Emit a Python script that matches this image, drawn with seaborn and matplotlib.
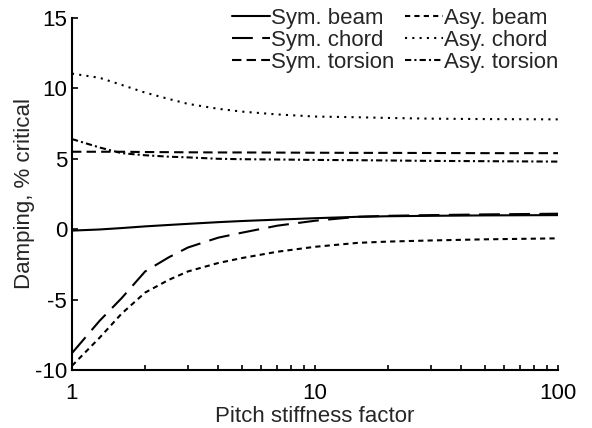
import numpy as np
import pandas as pd
import matplotlib
matplotlib.use("Agg")
import matplotlib.pyplot as plt
import seaborn as sns
from matplotlib.ticker import LogLocator, NullFormatter, FixedLocator

# ---- data ----
stiffness = [1, 1.3, 1.6, 2, 2.5, 3, 4, 5, 7, 10, 15, 20, 30, 50, 100]
sym_beam = [-0.1, -0.02, 0.08, 0.2, 0.3, 0.38, 0.5, 0.58, 0.68, 0.78, 0.88, 0.92, 0.95, 0.98, 1.0]
sym_chord = [-8.8, -6.5, -4.9, -3.0, -2.0, -1.3, -0.6, -0.25, 0.25, 0.6, 0.88, 0.95, 1.0, 1.05, 1.1]
sym_torsion = [5.5, 5.5, 5.5, 5.48, 5.47, 5.46, 5.45, 5.45, 5.44, 5.43, 5.42, 5.42, 5.41, 5.4, 5.4]
asy_beam = [-9.7, -7.7, -6.0, -4.5, -3.6, -3.0, -2.4, -2.05, -1.6, -1.25, -0.97, -0.88, -0.8, -0.72, -0.65]
asy_chord = [11.05, 10.75, 10.25, 9.7, 9.25, 8.9, 8.55, 8.35, 8.15, 8.0, 7.95, 7.9, 7.85, 7.82, 7.8]
asy_torsion = [6.4, 5.8, 5.4, 5.25, 5.15, 5.1, 5.0, 4.97, 4.95, 4.92, 4.9, 4.88, 4.85, 4.83, 4.8]

series_names = ["Sym. beam", "Sym. chord", "Sym. torsion",
                "Asy. beam", "Asy. chord", "Asy. torsion"]
series_values = [sym_beam, sym_chord, sym_torsion, asy_beam, asy_chord, asy_torsion]

x_ticks = [1, 10, 100]
x_tick_labels = ["1", "10", "100"]
y_ticks = [-10, -5, 0, 5, 10, 15]

rows = []
for name, vals in zip(series_names, series_values):
    for xv, yv in zip(stiffness, vals):
        rows.append({"x": xv, "y": yv, "series": name})
df = pd.DataFrame(rows)

# ---- styling ----
sns.set_style("ticks")
plt.rcParams["font.family"] = ["Liberation Sans", "DejaVu Sans"]
FS = 16
plt.rcParams["font.size"] = FS

dash_map = {
    "Sym. beam": "",
    "Sym. chord": (10, 4.5),
    "Sym. torsion": (4.5, 2.5),
    "Asy. beam": (2.5, 2),
    "Asy. chord": (1, 2.5),
    "Asy. torsion": (3, 1.5, 1, 1.5),
}

fig = plt.figure(figsize=(5.92, 4.28), dpi=100)
ax = fig.add_axes([0.1216, 0.1355, 0.821, 0.8225])

sns.lineplot(data=df, x="x", y="y", style="series", style_order=series_names,
             dashes=dash_map, color="black", linewidth=1.5, ax=ax, legend=True)

ax.set_xscale("log")
ax.set_xlim(1, 100)
ax.set_ylim(-10, 15)
ax.xaxis.set_major_locator(FixedLocator(x_ticks))
ax.set_xticklabels(x_tick_labels)
ax.xaxis.set_minor_locator(LogLocator(base=10, subs=np.arange(2, 10)))
ax.xaxis.set_minor_formatter(NullFormatter())
ax.set_yticks(y_ticks)
ax.set_yticklabels([str(v) for v in y_ticks])

for s in ["top", "right"]:
    ax.spines[s].set_visible(False)
for s in ["left", "bottom"]:
    ax.spines[s].set_linewidth(1.5)
    ax.spines[s].set_color("black")

ax.tick_params(axis="x", which="both", direction="in", length=3.8, width=1.2,
               colors="black", labelsize=FS, pad=9.5)
ax.tick_params(axis="y", which="major", direction="in", length=4.3, width=1.2,
               colors="black", labelsize=FS, pad=3.5)

ax.set_xlabel("Pitch stiffness factor", fontsize=FS, labelpad=1)
ax.set_ylabel("Damping, % critical", fontsize=FS, labelpad=0)

handles, labels = ax.get_legend_handles_labels()
ax.legend(handles, labels, ncol=2, loc="upper right",
          bbox_to_anchor=(558 / 592, 0.982), bbox_transform=fig.transFigure,
          frameon=False, handlelength=1.7, handletextpad=0.05,
          columnspacing=0.45, labelspacing=0.05, borderpad=0,
          borderaxespad=0, fontsize=16)

fig.savefig("out.png", dpi=100)
